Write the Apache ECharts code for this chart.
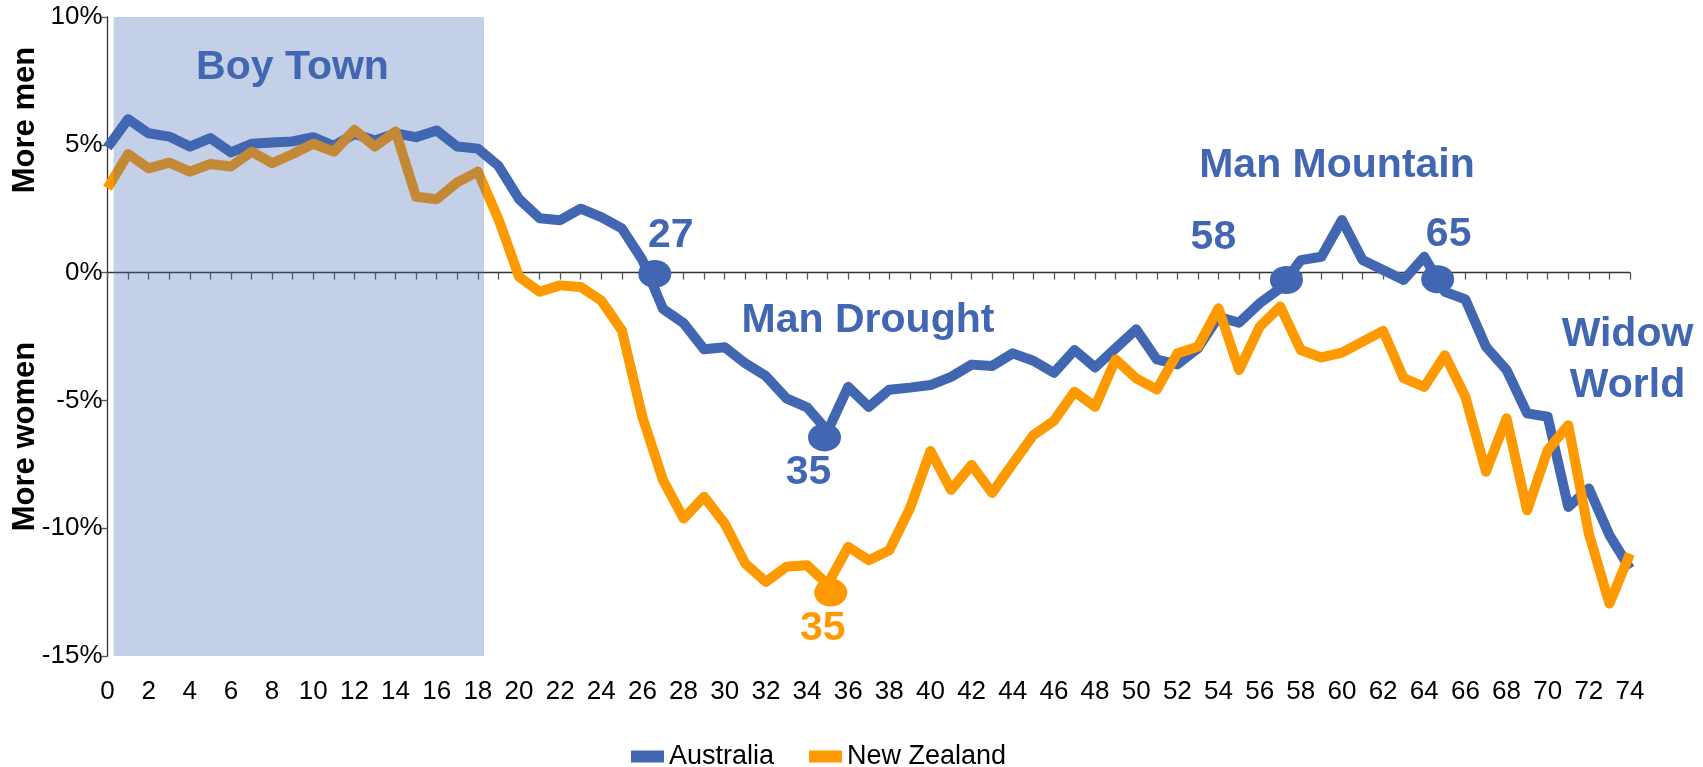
<!DOCTYPE html>
<html>
<head>
<meta charset="utf-8">
<title>Sex ratio by age</title>
<script src="https://cdn.jsdelivr.net/npm/echarts@6/dist/echarts.min.js"></script>
<style>
  html, body { margin: 0; padding: 0; background: #fff; }
  #chart { width: 1703px; height: 767px; }
</style>
</head>
<body>
<div id="chart"></div>
<script>
// age 0..74
const ages = Array.from({ length: 75 }, (_, i) => i);

// % excess of men over women
const australia = [
  4.9, 6.0, 5.45, 5.32, 4.93, 5.26, 4.7, 5.04, 5.09, 5.13,
  5.3, 4.96, 5.43, 5.17, 5.45, 5.3, 5.56, 4.93, 4.85, 4.18,
  2.88, 2.13, 2.05, 2.5, 2.17, 1.73, 0.49, -1.42, -1.98, -3.0,
  -2.92, -3.55, -4.05, -4.92, -5.27, -6.2, -4.47, -5.25, -4.58, -4.5,
  -4.4, -4.08, -3.6, -3.65, -3.16, -3.45, -3.92, -3.03, -3.71, -2.96,
  -2.22, -3.4, -3.59, -2.96, -1.73, -1.96, -1.2, -0.61, 0.49, 0.62,
  2.06, 0.49, 0.1, -0.29, 0.62, -0.75, -1.05, -2.9, -3.81, -5.51,
  -5.64, -9.17, -8.45, -10.27, -11.58
];
const newZealand = [
  3.3, 4.64, 4.08, 4.3, 3.95, 4.25, 4.15, 4.73, 4.28, 4.64,
  5.04, 4.73, 5.58, 4.93, 5.52, 2.97, 2.87, 3.53, 3.95, 2.1,
  -0.16, -0.75, -0.5, -0.56, -1.1, -2.26, -5.65, -8.12, -9.62, -8.77,
  -9.82, -11.38, -12.1, -11.51, -11.45, -12.2, -10.73, -11.25, -10.86, -9.23,
  -6.98, -8.5, -7.53, -8.62, -7.47, -6.36, -5.8, -4.66, -5.25, -3.4,
  -4.14, -4.57, -3.16, -2.9, -1.4, -3.81, -2.12, -1.33, -3.03, -3.32,
  -3.13, -2.7, -2.28, -4.13, -4.47, -3.23, -4.86, -7.79, -5.7, -9.3,
  -6.95, -5.97, -10.21, -12.95, -11.0
];

// highlighted points
const ausMarkAges = [26.6, 34.85, 57.3, 64.65];
const ausMarkValues = [-0.05, -6.45, -0.29, -0.26];
const ausMarkLabels = ["27", "35", "58", "65"];
const nzMarkAges = [35.15];
const nzMarkValues = [-12.52];
const nzMarkLabels = ["35"];

// "Boy Town" band
const bandAges = [0.3, 18.3];
const bandValues = [10.15, -15.12];

const yTicks = [-15, -10, -5, 0, 5, 10];

const BLUE = "#4267B2";
const ORANGE = "#FF9900";
const FONT = "'Liberation Sans', Arial, sans-serif";

const ausOffsets = [[16, -38], [-16, 35], [-73, -42], [11, -45]];
const nzOffsets = [[-8, 36]];

const markLabel = (color) => ({
  show: true,
  position: "inside",
  formatter: "{b}",
  color: color,
  fontSize: 41,
  fontWeight: "bold",
  fontFamily: FONT,
});

const chart = echarts.init(document.getElementById("chart"));

chart.setOption({
  animation: false,
  textStyle: { fontFamily: FONT },
  grid: { left: 107.5, right: 73, top: 17, bottom: 111, containLabel: false, outerBoundsMode: "none" },
  legend: {
    data: ["Australia", "New Zealand"],
    icon: "rect",
    itemWidth: 33,
    itemHeight: 12,
    itemGap: 35,
    left: 626,
    top: 738,
    textStyle: { fontSize: 27, color: "#000", fontFamily: FONT },
  },
  xAxis: [
    {
      type: "value",
      min: 0,
      max: 74,
      interval: 2,
      position: "bottom",
      axisLine: { show: false, onZero: false },
      axisTick: { show: false },
      splitLine: { show: false },
      axisLabel: { fontSize: 26, color: "#000", margin: 23, fontFamily: FONT },
    },
    {
      type: "value",
      min: 0,
      max: 74,
      interval: 1,
      position: "top",
      axisLine: { show: true, onZero: true, lineStyle: { color: "#333", width: 1.3 } },
      axisTick: { show: true, inside: true, length: 7, lineStyle: { color: "#555", width: 1.3 } },
      axisLabel: { show: false },
      splitLine: { show: false },
    },
  ],
  yAxis: {
    type: "value",
    min: yTicks[0],
    max: yTicks[yTicks.length - 1],
    interval: 5,
    axisLine: { show: true, lineStyle: { color: "#333", width: 1.3 } },
    axisTick: { show: true, length: 6, lineStyle: { color: "#555", width: 1.3 } },
    splitLine: { show: false },
    axisLabel: { formatter: "{value}%", fontSize: 26, color: "#000", margin: 5, padding: [3, 0, 0, 0], fontFamily: FONT },
  },
  series: [
    {
      name: "Australia",
      type: "line",
      xAxisIndex: 0,
      data: ages.map((a, i) => [a, australia[i]]),
      showSymbol: false,
      symbol: "none",
      color: BLUE,
      lineStyle: { color: BLUE, width: 10, join: "round", cap: "butt" },
      z: 3,
      markPoint: {
        symbol: "circle",
        symbolSize: [33, 28],
        itemStyle: { color: BLUE },
        silent: true,
        data: ausMarkAges.map((a, i) => ({
          name: ausMarkLabels[i],
          coord: [a, ausMarkValues[i]],
          label: Object.assign(markLabel(BLUE), { offset: ausOffsets[i] }),
        })),
      },
    },
    {
      name: "New Zealand",
      type: "line",
      xAxisIndex: 0,
      data: ages.map((a, i) => [a, newZealand[i]]),
      showSymbol: false,
      symbol: "none",
      color: ORANGE,
      lineStyle: { color: ORANGE, width: 10, join: "round", cap: "butt" },
      z: 4,
      markPoint: {
        symbol: "circle",
        symbolSize: [33, 28],
        itemStyle: { color: ORANGE },
        silent: true,
        data: nzMarkAges.map((a, i) => ({
          name: nzMarkLabels[i],
          coord: [a, nzMarkValues[i]],
          label: Object.assign(markLabel(ORANGE), { offset: nzOffsets[i] }),
        })),
      },
      markArea: {
        z: 10,
        silent: true,
        itemStyle: { color: "rgba(66,103,178,0.31)" },
        label: { show: false },
        data: [[
          { xAxis: bandAges[0], yAxis: bandValues[0] },
          { xAxis: bandAges[1], yAxis: bandValues[1] },
        ]],
      },
    },
  ],
  graphic: [
    { type: "text", x: 292.5, y: 68, z: 20, style: { text: "Boy Town", fill: BLUE, font: "bold 41px " + FONT, textAlign: "center", textVerticalAlign: "middle" } },
    { type: "text", x: 868, y: 320.5, z: 20, style: { text: "Man Drought", fill: BLUE, font: "bold 41px " + FONT, textAlign: "center", textVerticalAlign: "middle" } },
    { type: "text", x: 1337, y: 166, z: 20, style: { text: "Man Mountain", fill: BLUE, font: "bold 41px " + FONT, textAlign: "center", textVerticalAlign: "middle" } },
    { type: "text", x: 1627.5, y: 360.5, z: 20, style: { text: "Widow\nWorld", fill: BLUE, font: "bold 41px " + FONT, lineHeight: 51, textAlign: "center", textVerticalAlign: "middle" } },
    { type: "text", x: 25.5, y: 120, rotation: Math.PI / 2, z: 20, style: { text: "More men", fill: "#000", font: "bold 31px " + FONT, textAlign: "center", textVerticalAlign: "middle" } },
    { type: "text", x: 25.5, y: 436.5, rotation: Math.PI / 2, z: 20, style: { text: "More women", fill: "#000", font: "bold 31px " + FONT, textAlign: "center", textVerticalAlign: "middle" } },
  ],
});

window.addEventListener("resize", () => chart.resize());
</script>
</body>
</html>
